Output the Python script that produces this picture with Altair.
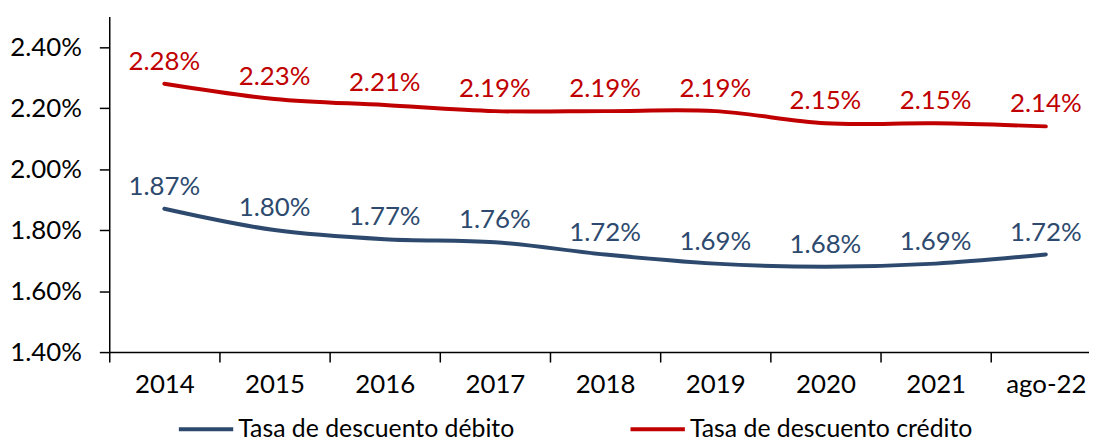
import altair as alt
import pandas as pd

categories = ["2014", "2015", "2016", "2017", "2018", "2019", "2020", "2021", "ago-22"]
debito = [1.87, 1.80, 1.77, 1.76, 1.72, 1.69, 1.68, 1.69, 1.72]
credito = [2.28, 2.23, 2.21, 2.19, 2.19, 2.19, 2.15, 2.15, 2.14]
series_names = ["Tasa de descuento débito", "Tasa de descuento crédito"]
series_colors = ["#2D4A6E", "#C00000"]
y_ticks = [0.014, 0.016, 0.018, 0.020, 0.022, 0.024]

rows = []
for name, vals in zip(series_names, [debito, credito]):
    for c, v in zip(categories, vals):
        rows.append({"cat": c, "serie": name, "val": v / 100.0, "lbl": f"{v:.2f}%"})
df = pd.DataFrame(rows)

FONT = "Lato"
FS = 26

x = alt.X("cat:N", sort=categories, title=None,
          scale=alt.Scale(range=[0, 999], paddingInner=0, paddingOuter=0),
          axis=alt.Axis(labelAngle=0, tickBand="extent", tickSize=10, labelPadding=10,
                        labelFontSize=FS, labelFont=FONT, labelColor="black",
                        domainColor="black", tickColor="black", domainWidth=1.5, tickWidth=1.5,
                        grid=False))
y = alt.Y("val:Q", title=None,
          scale=alt.Scale(domain=[0.014, 0.025], nice=False, zero=False),
          axis=alt.Axis(values=y_ticks, format=".2%", tickSize=10, labelPadding=18,
                        labelFontSize=FS, labelFont=FONT, labelColor="black",
                        domainColor="black", tickColor="black", domainWidth=1.5, tickWidth=1.5,
                        grid=False, minExtent=98, maxExtent=98))
color = alt.Color("serie:N", sort=series_names,
                  scale=alt.Scale(domain=series_names, range=series_colors),
                  legend=alt.Legend(title=None, orient="none", direction="horizontal",
                                    legendX=68, legendY=386, padding=0,
                                    symbolType="stroke", symbolStrokeWidth=4, symbolSize=3000,
                                    labelFontSize=25, labelFont=FONT, labelColor="black",
                                    labelOffset=3, columnPadding=108, labelLimit=0))

base = alt.Chart(df).encode(x=x, y=y, color=color)
lines = base.mark_line(strokeWidth=4, interpolate="catmull-rom", strokeCap="round")
labels = base.mark_text(dy=-22, baseline="middle", fontSize=FS, font=FONT).encode(
    text="lbl:N")

chart = (lines + labels).properties(
    width=987, height=338,
    autosize=alt.AutoSizeParams(type="none"),
    padding={"left": 102, "top": 7, "right": 0, "bottom": 96},
    background="white",
).configure_view(stroke=None)

chart.save("out.html", embed_options={"renderer": "svg", "actions": False})
